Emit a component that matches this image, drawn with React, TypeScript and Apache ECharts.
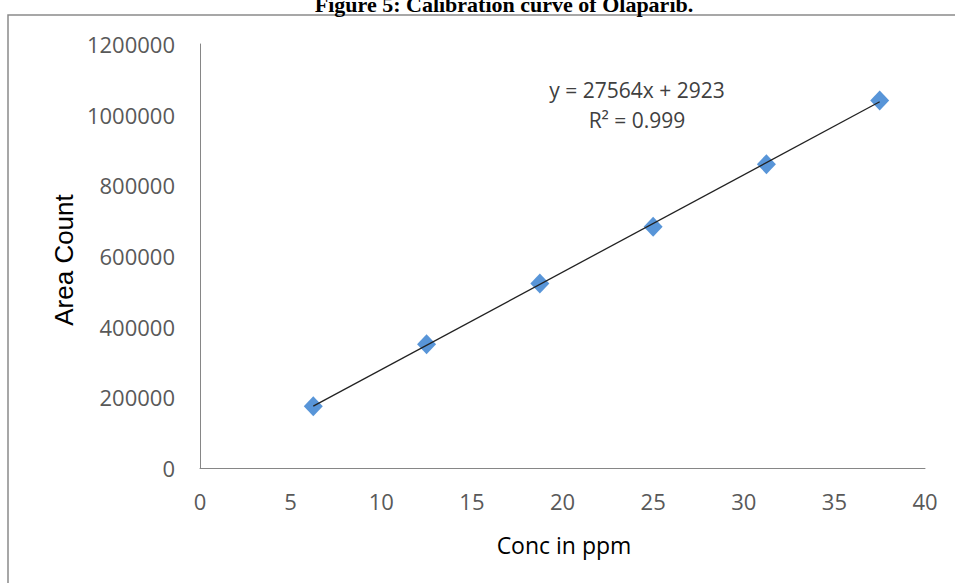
import React, { useEffect, useRef } from "react";
import * as echarts from "echarts";

const concPpm = [6.25, 12.5, 18.75, 25, 31.25, 37.5];
const areaCount = [175000, 350000, 522000, 683000, 860000, 1040000];
const trendX = [6.25, 37.5];
const trendY = [175198, 1036573];
const titleText = "Figure 5: Calibration curve of Olaparib.";
const equationText = "y = 27564x + 2923";
const r2Text = "R² = 0.999";
const xName = "Conc in ppm";
const yName = "Area Count";

export default function App() {
  const ref = useRef<HTMLDivElement>(null);
  useEffect(() => {
    if (!ref.current) return;
    const chart = echarts.init(ref.current, undefined, { renderer: "svg" });
    const labelFont = "'Open Sans', sans-serif";
    chart.setOption({
      animation: false,
      backgroundColor: "#ffffff",
      grid: { left: 200, right: 30, top: 44, bottom: 115 },
      xAxis: {
        type: "value",
        min: 0,
        max: 40,
        interval: 5,
        axisLine: { show: true, lineStyle: { color: "#868686", width: 1 } },
        axisTick: { show: false },
        splitLine: { show: false },
        axisLabel: { color: "#595959", fontSize: 22, fontFamily: labelFont, margin: 22, formatter: (v: number) => String(v) },
      },
      yAxis: {
        type: "value",
        min: 0,
        max: 1200000,
        interval: 200000,
        axisLine: { show: true, lineStyle: { color: "#868686", width: 1 } },
        axisTick: { show: false },
        splitLine: { show: false },
        axisLabel: { color: "#595959", fontSize: 22, fontFamily: labelFont, margin: 25, formatter: (v: number) => String(v) },
      },
      series: [
        {
          type: "line",
          data: trendX.map((x, i) => [x, trendY[i]]),
          showSymbol: false,
          symbol: "none",
          lineStyle: { color: "#222222", width: 1.3 },
          z: 3,
          silent: true,
        },
        {
          type: "scatter",
          data: concPpm.map((x, i) => [x, areaCount[i]]),
          symbol: "diamond",
          symbolSize: [19, 20],
          itemStyle: { color: "#4F8FD6", opacity: 0.95 },
          z: 2,
        },
      ],
      graphic: [
        {
          type: "rect",
          shape: { x: 8, y: 15, width: 1000, height: 700 },
          style: { fill: "none", stroke: "#8a8a8a", lineWidth: 1.5 },
          silent: true,
          z: -1,
        },
        {
          type: "text",
          x: 504,
          y: 4,
          style: {
            text: titleText,
            fontFamily: "'Liberation Serif', serif",
            fontWeight: "bold",
            fontSize: 22,
            fill: "#000000",
            align: "center",
            verticalAlign: "middle",
          },
        },
        {
          type: "text",
          x: 637,
          y: 90,
          style: {
            text: equationText,
            fontFamily: labelFont,
            fontSize: 21,
            fill: "#404040",
            align: "center",
            verticalAlign: "middle",
          },
        },
        {
          type: "text",
          x: 637,
          y: 120,
          style: {
            text: r2Text,
            fontFamily: labelFont,
            fontSize: 21,
            fill: "#404040",
            align: "center",
            verticalAlign: "middle",
          },
        },
        {
          type: "text",
          x: 564,
          y: 545,
          style: {
            text: xName,
            fontFamily: labelFont,
            fontSize: 23,
            fill: "#000000",
            align: "center",
            verticalAlign: "middle",
          },
        },
        {
          type: "text",
          x: 64,
          y: 260,
          rotation: Math.PI / 2,
          style: {
            text: yName,
            fontFamily: "'Liberation Sans', Arial, sans-serif",
            fontSize: 26,
            fill: "#000000",
            align: "center",
            verticalAlign: "middle",
          },
        },
      ],
    });
    return () => chart.dispose();
  }, []);
  return <div ref={ref} style={{ width: 955, height: 583, position: "absolute", left: 0, top: 0 }} />;
}
